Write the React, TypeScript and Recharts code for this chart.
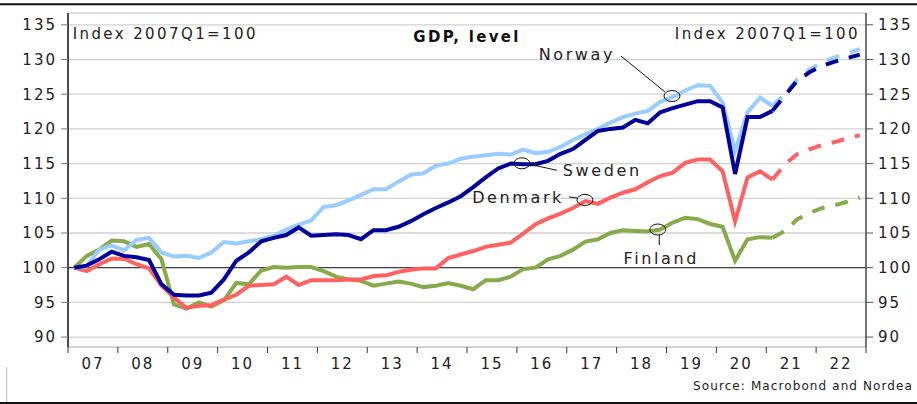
import { LineChart, Line, XAxis, YAxis, CartesianGrid, ReferenceLine, ReferenceDot } from 'recharts'

// quarterly, 2007Q1 = 100; history runs to 2021Q1, forecasts to 2022Q4
const years = ['07', '08', '09', '10', '11', '12', '13', '14', '15', '16', '17', '18', '19', '20', '21', '22']

const norway = [
  100, 100.2, 102.6, 103.2, 102.5, 104.0, 104.3, 102.2, 101.6, 101.7, 101.4, 102.2, 103.7, 103.5, 103.8, 104.1,
  104.6, 105.5, 106.2, 106.8, 108.75, 109.0, 109.7, 110.5, 111.3, 111.3, 112.4, 113.4, 113.6, 114.7, 115.0, 115.7,
  116.0, 116.2, 116.4, 116.3, 117.0, 116.5, 116.7, 117.4, 118.4, 119.2, 120.0, 120.9, 121.7, 122.2, 122.6, 123.9,
  124.6, 125.5, 126.3, 126.2, 123.8, 116.8, 122.4, 124.5, 123.3,
]
const norwayFc = [125.0, 127.2, 128.6, 129.6, 130.3, 130.9, 131.5]

const sweden = [
  100, 100.3, 101.2, 102.3, 101.7, 101.5, 101.1, 97.6, 96.1, 96.0, 96.0, 96.4, 98.3, 101.0, 102.2, 103.8,
  104.3, 104.7, 105.8, 104.6, 104.7, 104.8, 104.7, 104.1, 105.4, 105.4, 105.9, 106.7, 107.7, 108.6, 109.4, 110.3,
  111.6, 113.0, 114.3, 115.0, 114.9, 114.9, 115.4, 116.4, 117.1, 118.4, 119.7, 120.0, 120.2, 121.3, 120.8, 122.4,
  123.0, 123.5, 124.0, 124.0, 123.1, 113.5, 121.7, 121.7, 122.6,
]
const swedenFc = [124.8, 127.0, 128.2, 129.1, 129.7, 130.2, 130.7]

const denmark = [
  100, 99.5, 100.5, 101.3, 101.3, 100.5, 99.9, 97.4, 95.7, 94.2, 94.5, 94.6, 95.4, 96.1, 97.4, 97.5,
  97.6, 98.7, 97.5, 98.2, 98.2, 98.2, 98.3, 98.3, 98.8, 98.9, 99.4, 99.7, 99.9, 99.9, 101.4, 101.9,
  102.4, 103.0, 103.3, 103.6, 104.9, 106.25, 107.1, 107.8, 108.6, 109.6, 109.2, 110.1, 110.8, 111.3, 112.3, 113.2,
  113.7, 115.1, 115.6, 115.6, 113.9, 106.7, 113.0, 113.9, 112.7,
]
const denmarkFc = [114.9, 116.4, 117.1, 117.7, 118.1, 118.65, 119.1]

const finland = [
  100, 101.7, 102.6, 103.9, 103.8, 103.0, 103.4, 101.2, 94.7, 94.1, 95.0, 94.4, 95.3, 97.8, 97.6, 99.6,
  100.1, 100.0, 100.1, 100.1, 99.5, 98.7, 98.3, 98.1, 97.4, 97.7, 98.0, 97.7, 97.2, 97.4, 97.8, 97.4,
  96.9, 98.2, 98.2, 98.7, 99.8, 100.0, 101.2, 101.7, 102.6, 103.75, 104.1, 105.0, 105.4, 105.3, 105.2, 105.5,
  106.5, 107.2, 107.0, 106.3, 105.9, 101.0, 104.1, 104.4, 104.3,
]
const finlandFc = [105.3, 107.0, 107.9, 108.6, 109.0, 109.5, 110.1]

const yTicks = [90, 95, 100, 105, 110, 115, 120, 125, 130, 135]
const xTicks = years.map((_, i) => i * 4).concat(years.length * 4)

const HIST = norway.length

const split = (hist: number[], fc: number[], i: number) => ({
  h: i < HIST ? hist[i] : null,
  f: i === HIST - 1 ? hist[i] : i >= HIST ? fc[i - HIST] : null,
})

const data = Array.from({ length: HIST + norwayFc.length }, (_, i) => {
  const no = split(norway, norwayFc, i)
  const se = split(sweden, swedenFc, i)
  const dk = split(denmark, denmarkFc, i)
  const fi = split(finland, finlandFc, i)
  return {
    q: i + 0.5,
    no: no.h, noF: no.f,
    se: se.h, seF: se.f,
    dk: dk.h, dkF: dk.f,
    fi: fi.h, fiF: fi.f,
  }
})

const FONT = 'DejaVu Sans, sans-serif'
const colors = { no: '#99ccff', se: '#00009b', dk: '#ff6060', fi: '#87aa4b' }
const DASH = '13 11'

function YearTick({ x, y, payload }: any) {
  const idx = payload.value / 4
  if (idx >= years.length) return null
  return (
    <text x={x + 25} y={y + 14} textAnchor="middle" fontSize={15} fill="#222" fontFamily={FONT} letterSpacing={2}>
      {years[idx]}
    </text>
  )
}

type AnnProps = {
  cx?: number
  cy?: number
  label: string
  tx: number
  ty: number
  anchor: 'start' | 'middle' | 'end'
  line: [number, number, number, number]
}

function Annot({ cx = 0, cy = 0, label, tx, ty, anchor, line }: AnnProps) {
  return (
    <g>
      <ellipse cx={cx} cy={cy} rx={8} ry={5.5} fill="none" stroke="#111" strokeWidth={1} />
      <line x1={cx + line[0]} y1={cy + line[1]} x2={cx + line[2]} y2={cy + line[3]} stroke="#111" strokeWidth={1} />
      <text x={cx + tx} y={cy + ty} textAnchor={anchor} fontSize={16} fill="#222" fontFamily={FONT} letterSpacing={2.6}>
        {label}
      </text>
    </g>
  )
}

export default function App() {
  return (
    <div style={{ position: 'absolute', left: 0, top: 0, width: 917, height: 404, background: '#fff' }}>
      <LineChart width={917} height={404} data={data} margin={{ top: 13, right: 0, bottom: 0, left: 0 }}>
        <CartesianGrid vertical={false} stroke="#d2d2d2" strokeWidth={1.3} />
        <XAxis
          dataKey="q"
          type="number"
          domain={[0, years.length * 4]}
          ticks={xTicks}
          interval={0}
          height={57}
          tick={<YearTick />}
          tickSize={6}
          tickMargin={2}
          axisLine={{ stroke: '#c8c8c8' }}
          tickLine={{ stroke: '#333' }}
        />
        <YAxis
          domain={[88.57, 136.7]}
          ticks={yTicks}
          interval={0}
          width={68}
          allowDataOverflow
          tickSize={7}
          tickMargin={4}
          tick={{ fontSize: 15, fill: '#222', fontFamily: FONT, letterSpacing: 2 }}
          axisLine={{ stroke: '#111', strokeWidth: 1.5 }}
          tickLine={{ stroke: '#777' }}
        />
        <YAxis
          yAxisId="r"
          orientation="right"
          domain={[88.57, 136.7]}
          ticks={yTicks}
          interval={0}
          width={51}
          allowDataOverflow
          tickSize={7}
          tickMargin={5}
          tick={{ fontSize: 15, fill: '#222', fontFamily: FONT, letterSpacing: 2, textAnchor: 'start' }}
          axisLine={{ stroke: '#444', strokeWidth: 1.5 }}
          tickLine={{ stroke: '#555' }}
        />
        <ReferenceLine y={100} stroke="#444" strokeWidth={1.3} />

        <Line dataKey="fi" stroke={colors.fi} strokeWidth={4} dot={false} isAnimationActive={false} />
        <Line dataKey="fiF" stroke={colors.fi} strokeWidth={4} strokeDasharray={DASH} dot={false} isAnimationActive={false} />
        <Line dataKey="dk" stroke={colors.dk} strokeWidth={4} dot={false} isAnimationActive={false} />
        <Line dataKey="dkF" stroke={colors.dk} strokeWidth={4} strokeDasharray={DASH} dot={false} isAnimationActive={false} />
        <Line dataKey="no" stroke={colors.no} strokeWidth={4} dot={false} isAnimationActive={false} />
        <Line dataKey="noF" stroke={colors.no} strokeWidth={4} strokeDasharray={DASH} dot={false} isAnimationActive={false} />
        <Line dataKey="se" stroke={colors.se} strokeWidth={4} dot={false} isAnimationActive={false} />
        <Line dataKey="seF" stroke={colors.se} strokeWidth={4} strokeDasharray={DASH} dot={false} isAnimationActive={false} />

        <ReferenceDot x={48.44} y={124.74} shape={(p: any) => (
          <Annot cx={p.cx} cy={p.cy} label="Norway" tx={-57} ty={-35.5} anchor="end" line={[-51, -40, -7, -4]} />
        )} />
        <ReferenceDot x={36.4} y={115.04} shape={(p: any) => (
          <Annot cx={p.cx} cy={p.cy} label="Sweden" tx={41} ty={12.7} anchor="start" line={[8, 1, 35, 7]} />
        )} />
        <ReferenceDot x={41.46} y={109.76} shape={(p: any) => (
          <Annot cx={p.cx} cy={p.cy} label="Denmark" tx={-21} ty={2.7} anchor="end" line={[-16, -3, -8, -2]} />
        )} />
        <ReferenceDot x={47.3} y={105.5} shape={(p: any) => (
          <Annot cx={p.cx} cy={p.cy} label="Finland" tx={3.5} ty={34.5} anchor="middle" line={[1.5, 5.5, 1.5, 15.5]} />
        )} />
      </LineChart>

      <svg width={917} height={404} style={{ position: 'absolute', left: 0, top: 0, pointerEvents: 'none' }}>
        <line x1={0} y1={4.3} x2={917} y2={4.3} stroke="#111" strokeWidth={2} />
        <line x1={0} y1={403} x2={917} y2={403} stroke="#111" strokeWidth={2} />
        <line x1={6.7} y1={367} x2={6.7} y2={402} stroke="#bbb" strokeWidth={1} />
        <text x={467} y={41.5} textAnchor="middle" fontSize={15} fontWeight="bold" fill="#111" fontFamily={FONT} letterSpacing={2.3}>
          GDP, level
        </text>
        <text x={72.7} y={39.3} fontSize={15} fill="#222" fontFamily={FONT} letterSpacing={2.4}>
          Index 2007Q1=100
        </text>
        <text x={860} y={39.3} textAnchor="end" fontSize={15} fill="#222" fontFamily={FONT} letterSpacing={2.4}>
          Index 2007Q1=100
        </text>
        <text x={913} y={390} textAnchor="end" fontSize={12} fill="#222" fontFamily={FONT} letterSpacing={1.1}>
          Source: Macrobond and Nordea
        </text>
      </svg>
    </div>
  )
}
